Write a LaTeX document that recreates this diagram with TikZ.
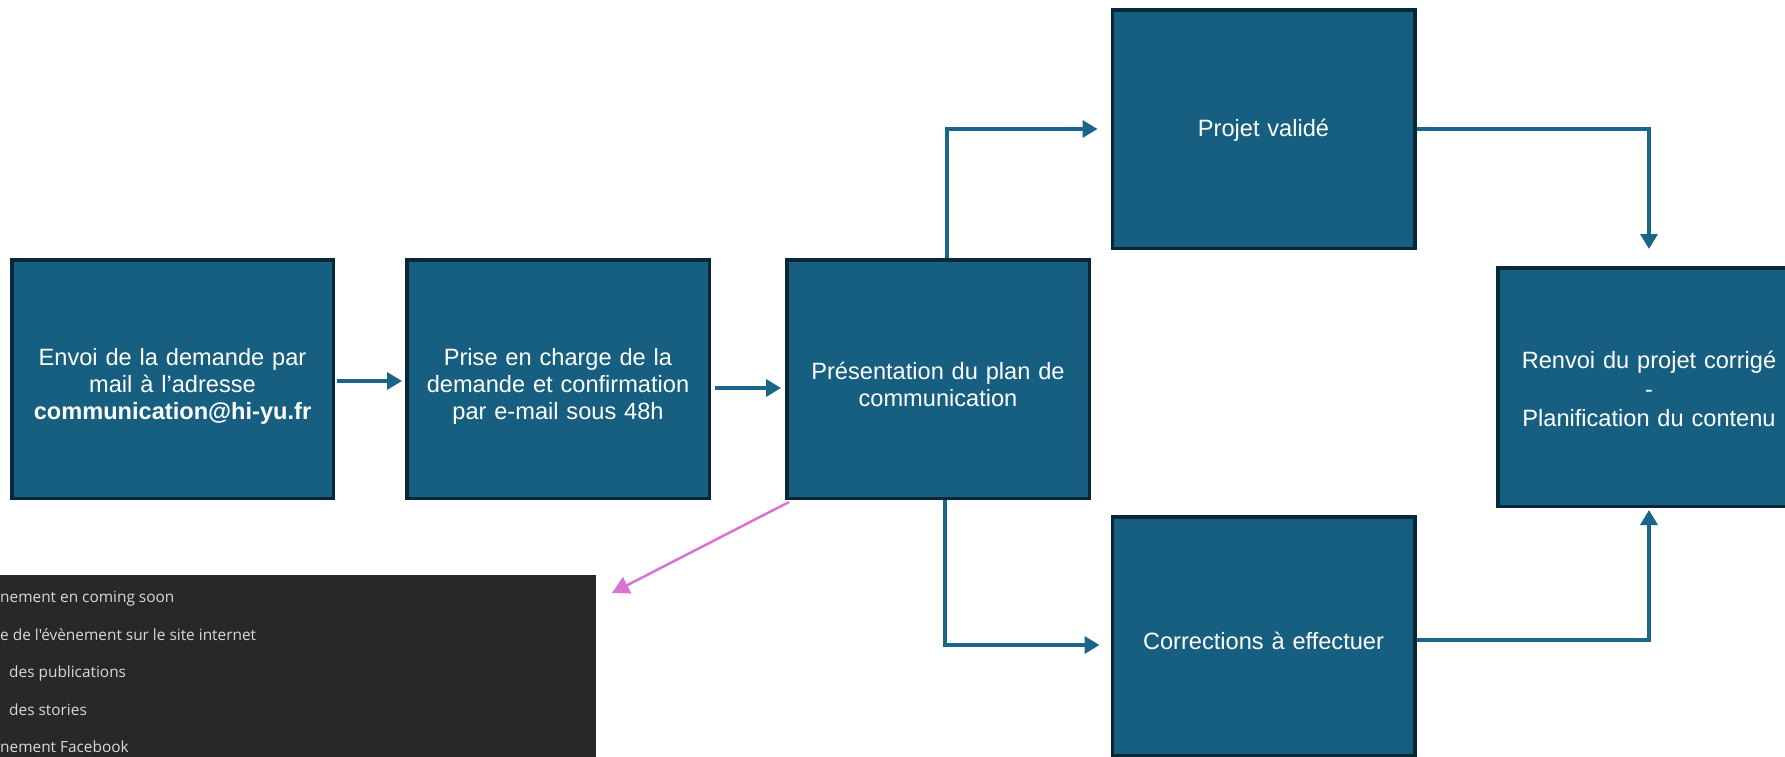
\documentclass[tikz,border=0pt]{standalone}
\usepackage{fontspec}
\setmainfont{Liberation Sans}
\newfontfamily\panelfont{Open Sans}
\usetikzlibrary{arrows.meta}
\definecolor{boxfill}{HTML}{175F80}
\definecolor{boxborder}{HTML}{08283A}
\definecolor{connc}{HTML}{1A6588}
\definecolor{panelbg}{HTML}{292826}
\definecolor{paneltext}{HTML}{D8D8D8}
\definecolor{pinkarrow}{HTML}{DA72D4}
% invisible strut that pushes a box's text down a little
\newcommand\topgap[1]{\rule{0pt}{#1}}
\begin{document}
\begin{tikzpicture}[x=1pt,y=-1pt,
  stepbox/.style={draw=boxborder, fill=boxfill, line width=3.5pt,
    minimum width=302.5pt, minimum height=238.5pt, inner sep=0pt,
    text=white, align=center, text width=300pt,
    font=\fontsize{23.6}{27.4}\selectfont},
  widebox/.style={stepbox, minimum width=321.5pt, text width=318pt},
  connector/.style={draw=connc, line width=3.5pt,
    -{Triangle[length=15pt,width=17pt]}},
  pinkline/.style={draw=pinkarrow, line width=2.5pt,
    -{Triangle[length=17pt,width=18pt]}},
  paneltxt/.style={anchor=base west, inner sep=0pt, text=paneltext,
    font=\panelfont\fontsize{15.4}{18}\selectfont}
]
\useasboundingbox (0,0) rectangle (1785,756);
\clip (0,0) rectangle (1785,756);

% dark panel (cut by the picture's edges)
\node[fill=panelbg, draw=none, inner sep=0pt, minimum width=640pt,
  minimum height=210pt, anchor=north east] (panel) at (596,575) {};
\node[paneltxt] (t1) at (0,602) {nement en coming soon};
\node[paneltxt] (t2) at (0,640) {e de l'évènement sur le site internet};
\node[paneltxt] (t3) at (9,677) {des publications};
\node[paneltxt] (t4) at (9,715) {des stories};
\node[paneltxt] (t5) at (0,752) {nement Facebook};

% boxes
\node[widebox] (b1) at (172.5,379) {\topgap{32pt}Envoi de la demande par\\mail à l’adresse\\\textbf{communication@hi-yu.fr}};
\node[stepbox] (b2) at (558,379) {\topgap{32pt}Prise en charge de la\\demande et confirmation\\par e-mail sous 48h};
\node[stepbox] (b3) at (938,379) {\topgap{28pt}Présentation du plan de\\communication};
\node[stepbox] (b4) at (1263.5,129) {\topgap{20pt}Projet validé};
\node[stepbox] (b5) at (1263.5,636) {\topgap{27pt}Corrections à effectuer};
\node[stepbox, font=\fontsize{23.6}{29}\selectfont] (b6) at (1649,387) {\topgap{22pt}Renvoi du projet corrigé\\-\\Planification du contenu};

% connectors
\draw[connector] ([xshift=2pt,yshift=-2pt]b1.east) -- ([xshift=-3pt,yshift=-2pt]b2.west);
\draw[connector] ([xshift=4pt,yshift=-9pt]b2.east) -- ([xshift=-4pt,yshift=-9pt]b3.west);
\draw[connector] ([xshift=9pt]b3.north) |- ([xshift=-13pt]b4.west);
\draw[connector] ([xshift=7pt]b3.south) |- ([xshift=-11pt,yshift=-9pt]b5.west);
\draw[connector] (b4.east) -| ([yshift=17pt]b6.north);
\draw[connector] ([yshift=-4pt]b5.east) -| ([yshift=-2pt]b6.south);
\draw[pinkline] ([xshift=4pt,yshift=-2pt]b3.south west) -- ([xshift=16pt,yshift=-18pt]panel.north east);
\end{tikzpicture}
\end{document}
